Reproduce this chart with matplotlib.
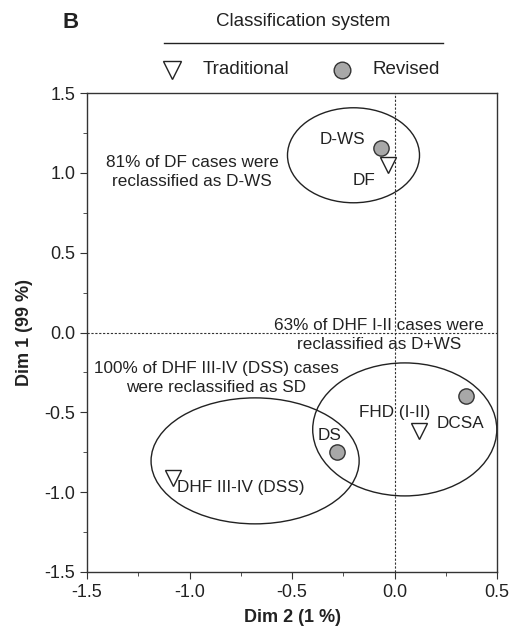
import matplotlib
matplotlib.use("Agg")
import matplotlib.pyplot as plt
from matplotlib.patches import Ellipse
from matplotlib.lines import Line2D
from matplotlib.ticker import MultipleLocator, FormatStrFormatter

plt.rcParams['font.family'] = ['Liberation Sans', 'DejaVu Sans']

# traditional classification (triangles)
trad_names = ['DF', 'FHD (I-II)', 'DHF III-IV (DSS)']
trad_x = [-0.03, 0.12, -1.08]
trad_y = [1.05, -0.62, -0.91]

# revised classification (circles)
rev_names = ['D-WS', 'DCSA', 'DS']
rev_x = [-0.065, 0.35, -0.28]
rev_y = [1.155, -0.40, -0.75]

# groups: center x, center y, width, height
group_cx = [-0.20, 0.05, -0.68]
group_cy = [1.11, -0.607, -0.804]
group_w = [0.644, 0.898, 1.015]
group_h = [0.595, 0.833, 0.789]

fig = plt.figure(figsize=(5.17, 6.28), dpi=100)
ax = fig.add_axes([87 / 517, 1 - 572 / 628, 410 / 517, 479 / 628])

ax.axhline(0, color='#333333', ls=(0, (2, 1.5)), lw=0.8, zorder=1)
ax.axvline(0, color='#333333', ls=(0, (2, 1.5)), lw=0.8, zorder=1)

for cx, cy, w, h in zip(group_cx, group_cy, group_w, group_h):
    ax.add_patch(Ellipse((cx, cy), w, h, fill=False, ec='#222222', lw=1.0, zorder=2))

ax.plot(trad_x, trad_y, 'v', ms=12, mfc='white', mec='#222222', mew=1.0, ls='none', zorder=3)
ax.plot(rev_x, rev_y, 'o', ms=11, mfc='#a8a8a8', mec='#333333', mew=1.0, ls='none', zorder=4)

fs = 12.3
c = '#222222'
ls_txt = 1.35
ax.text(-0.256, 1.206, 'D-WS', fontsize=fs, ha='center', va='center', color=c)
ax.text(-0.149, 0.955, 'DF', fontsize=fs, ha='center', va='center', color=c)
ax.text(-0.986, 1.005, '81% of DF cases were\nreclassified as D-WS', fontsize=fs,
        ha='center', va='center', color=c, linespacing=ls_txt)
ax.text(-0.076, -0.015, '63% of DHF I-II cases were\nreclassified as D+WS', fontsize=fs,
        ha='center', va='center', color=c, linespacing=ls_txt)
ax.text(-0.871, -0.285, '100% of DHF III-IV (DSS) cases\nwere reclassified as SD', fontsize=fs,
        ha='center', va='center', color=c, linespacing=ls_txt)
ax.text(0.002, -0.504, 'FHD (I-II)', fontsize=fs, ha='center', va='center', color=c)
ax.text(0.32, -0.573, 'DCSA', fontsize=fs, ha='center', va='center', color=c)
ax.text(-0.315, -0.648, 'DS', fontsize=fs, ha='center', va='center', color=c)
ax.text(-1.06, -0.973, 'DHF III-IV (DSS)', fontsize=fs, ha='left', va='center', color=c)

ax.set_xlim(-1.5, 0.5)
ax.set_ylim(-1.5, 1.5)
ax.xaxis.set_major_locator(MultipleLocator(0.5))
ax.xaxis.set_minor_locator(MultipleLocator(0.25))
ax.yaxis.set_major_locator(MultipleLocator(0.5))
ax.yaxis.set_minor_locator(MultipleLocator(0.25))
ax.xaxis.set_major_formatter(FormatStrFormatter('%.1f'))
ax.yaxis.set_major_formatter(FormatStrFormatter('%.1f'))
ax.tick_params(which='both', direction='out', color='#333333', labelcolor=c, labelsize=13)
ax.tick_params(which='major', length=5)
ax.tick_params(which='minor', length=3)
for s in ax.spines.values():
    s.set_color('#333333')
    s.set_linewidth(1.0)

ax.set_xlabel('Dim 2 (1 %)', fontsize=13, fontweight='bold', color=c, labelpad=6)
ax.set_ylabel('Dim 1 (99 %)', fontsize=13, fontweight='bold', color=c, labelpad=8)

# legend above the plot
fig.text(62 / 517, 1 - 22 / 628, 'B', fontsize=16, fontweight='bold', color=c, va='center')
fig.text(303 / 517, 1 - 22 / 628, 'Classification system', fontsize=13.5, ha='center',
         va='center', color=c)
fig.add_artist(Line2D([164 / 517, 443 / 517], [1 - 43 / 628, 1 - 43 / 628],
                      color='#222222', lw=1.0))
fig.add_artist(Line2D([172 / 517], [1 - 70 / 628], marker='v', ms=13, mfc='white',
                      mec='#222222', mew=1.0, ls='none'))
fig.text(203 / 517, 1 - 70 / 628, 'Traditional', fontsize=13.5, va='center', color=c)
fig.add_artist(Line2D([342 / 517], [1 - 70 / 628], marker='o', ms=12, mfc='#a8a8a8',
                      mec='#333333', mew=1.0, ls='none'))
fig.text(373 / 517, 1 - 70 / 628, 'Revised', fontsize=13.5, va='center', color=c)

fig.savefig('out.png', dpi=100)
